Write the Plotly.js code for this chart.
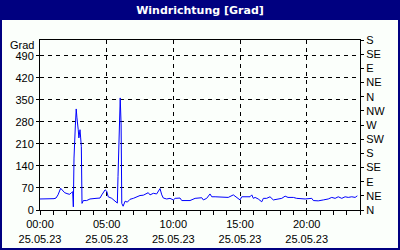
<!DOCTYPE html>
<html>
<head>
<meta charset="utf-8">
<script src="https://cdn.plot.ly/plotly-3.0.1.min.js"></script>
<style>html,body{margin:0;padding:0;background:#000080;}#chart{width:400px;height:250px;}</style>
</head>
<body>
<div id="chart"></div>
<script>
var times = ["00:00","00:20","00:50","01:03","01:12","01:21","01:33","01:39","01:51","02:06","02:14","02:21","02:27","02:30","02:33","02:39","02:43","02:46","02:50","02:52","02:55","02:57","03:00","03:03","03:06","03:09","03:15","03:30","03:45","04:12","04:30","04:38","04:53","05:00","05:07","05:23","05:38","05:48","05:51","05:57","06:01","06:05","06:08","06:14","06:23","06:33","06:45","07:00","07:15","07:30","07:45","07:57","08:07","08:15","08:30","08:45","09:00","09:08","09:15","09:30","09:45","10:00","10:08","10:30","10:38","10:57","11:15","11:38","11:52","12:08","12:15","12:30","12:45","12:53","13:08","13:53","14:07","14:30","14:45","15:00","15:08","15:45","15:53","16:00","16:08","16:22","16:38","16:45","17:00","17:15","17:30","17:52","18:08","18:23","18:36","19:00","19:15","19:53","20:07","20:23","20:30","20:52","21:15","21:37","21:53","22:08","22:22","22:38","22:53","23:07","23:23","23:38","23:48"];
var values = [35,35,35,36,38,48,69,65,55,51,50,55,58,10,165,267,321,295,276,255,229,245,255,229,201,21,30,30,35,37,38,48,64,60,42,37,28,22,106,276,356,270,21,12,28,25,34,37,42,46,47,50,55,48,53,51,68,48,38,35,37,32,37,38,30,30,30,37,39,39,32,37,51,42,42,42,40,48,40,32,42,42,48,37,40,35,26,37,37,42,32,35,37,44,40,40,37,35,37,37,30,29,32,35,40,37,42,37,42,40,42,40,45];
var day = "2023-05-25";
var dirTickVals = [0,45,90,135,180,225,270,315,360,405,450,495,540];
var dirTickText = ["N","NE","E","SE","S","SW","W","NW","N","NE","E","SE","S"];
var chartTitle = "Windrichtung [Grad]";
var unitLabel = "Grad";

var x = times.map(function(t){ return day + " " + t; });

var font = {family: "Liberation Sans, Arial, sans-serif", size: 11, color: "#000000"};

var data = [
  {x: x, y: values, type: "scatter", mode: "lines", line: {color: "#0000ff", width: 1}, hoverinfo: "skip", showlegend: false},
  {x: [x[0]], y: [0], yaxis: "y2", type: "scatter", mode: "lines", line: {width: 0}, hoverinfo: "skip", showlegend: false}
];

var layout = {
  width: 400, height: 250,
  margin: {l: 40, r: 40, t: 40, b: 40},
  paper_bgcolor: "#000080",
  plot_bgcolor: "#fbfffb",
  font: font,
  title: {text: "<b>" + chartTitle + "</b>", font: {family: "DejaVu Sans, sans-serif", size: 11, color: "#ffffff"}, x: 0.5, xanchor: "center", y: 0.96, yanchor: "middle", yref: "container"},
  showlegend: false,
  xaxis: {
    type: "date",
    range: [day + " 00:00", "2023-05-26 00:00"],
    tick0: day + " 00:00",
    dtick: 5 * 3600000,
    tickformat: "%H:%M<br>%d.%m.%y",
    ticks: "outside", ticklen: 4, tickcolor: "#000000", tickwidth: 1,
    minor: {dtick: 3600000, ticks: "outside", ticklen: 4, tickcolor: "#000000", showgrid: false},
    showline: true, linecolor: "#000000", linewidth: 1, mirror: true,
    showgrid: true, gridcolor: "#000000", gridwidth: 1, griddash: "4px,4px",
    zeroline: false, tickfont: font, fixedrange: true
  },
  yaxis: {
    range: [0, 540],
    tick0: 0, dtick: 70,
    ticks: "outside", ticklen: 3, tickcolor: "#000000",
    showline: true, linecolor: "#000000", linewidth: 1, mirror: true,
    showgrid: true, gridcolor: "#000000", gridwidth: 1, griddash: "4px,4px",
    zeroline: false, tickfont: font, fixedrange: true
  },
  yaxis2: {
    overlaying: "y", side: "right",
    range: [0, 540],
    tickmode: "array", tickvals: dirTickVals, ticktext: dirTickText,
    ticks: "outside", ticklen: 3, tickcolor: "#000000",
    showline: false, showgrid: false, zeroline: false,
    tickfont: font, fixedrange: true
  },
  shapes: [
    {type: "rect", xref: "paper", yref: "paper", x0: -38/320, x1: 358/320, y0: -38/170, y1: 190/170, fillcolor: "#fbfffb", line: {width: 0}, layer: "below"}
  ],
  annotations: [
    {text: unitLabel, xref: "paper", yref: "paper", x: 0, y: 165/170, xanchor: "right", yanchor: "middle", xshift: -4, showarrow: false, font: font}
  ]
};

Plotly.newPlot("chart", data, layout, {displayModeBar: false, staticPlot: true});
</script>
</body>
</html>
